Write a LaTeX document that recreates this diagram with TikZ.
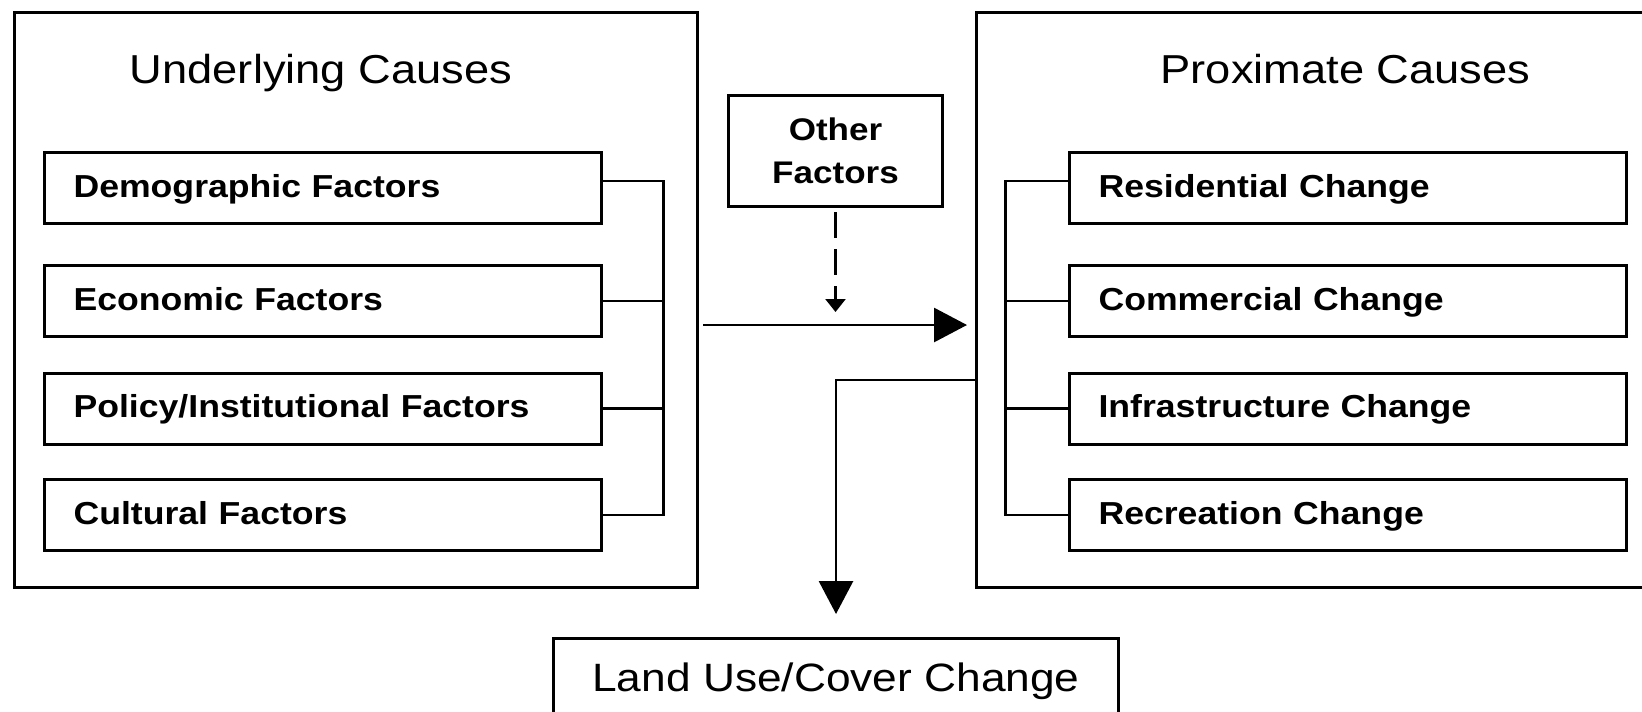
\documentclass[tikz,border=0pt]{standalone}
\usepackage{fontspec}
\setmainfont{Liberation Sans}[FakeStretch=1.12]
\usetikzlibrary{arrows.meta}
\begin{document}
\begin{tikzpicture}[
  x=0.02cm, y=-0.02cm,
  frame/.style={draw, line width=0.06cm, inner sep=0pt, anchor=north west},
  title/.style={anchor=base, font=\fontsize{23}{27}\selectfont},
  factor/.style={draw, line width=0.06cm, minimum width=11.14cm, minimum height=1.42cm,
    text width=9.98cm, inner xsep=0.58cm, align=left,
    text height=0.46cm, text depth=0.1cm,
    font=\bfseries\fontsize{18.1}{20}\selectfont},
  link/.style={draw, line width=0.058cm},
  bigtip/.style={-{Triangle[length=0.66cm,width=0.68cm]}},
]
\useasboundingbox (0,0) rectangle (1642,711);

% the two cause groups
\node[frame, minimum width=13.66cm, minimum height=11.5cm] (under) at (13,11) {};
\node[frame, minimum width=13.9cm, minimum height=11.5cm] (prox) at (975,11) {};
\node[title] (undertitle) at (321,83) {Underlying Causes};
\node[title] (proxtitle) at (1345.6,83) {Proximate Causes};

% underlying factors
\node[factor] (dem) at (323,188) {Demographic Factors};
\node[factor] (eco) at (323,301) {Economic Factors};
\node[factor] (pol) at (323,408.5) {Policy/Institutional Factors};
\node[factor] (cul) at (323,515) {Cultural Factors};

% proximate changes
\node[factor] (res) at (1348,188) {Residential Change};
\node[factor] (com) at (1348,301) {Commercial Change};
\node[factor] (inf) at (1348,408.5) {Infrastructure Change};
\node[factor] (rec) at (1348,515) {Recreation Change};

% other factors and the outcome
\node[draw, line width=0.06cm, minimum width=4.3cm, minimum height=2.24cm, align=center,
  font=\bfseries\fontsize{17.8}{24.5}\selectfont] (other) at (835.5,151) {Other\\Factors};
\node[draw, line width=0.06cm, anchor=north, minimum width=11.32cm, inner ysep=0pt,
  text height=1.06cm, text depth=1.4cm, font=\fontsize{22.5}{26}\selectfont]
  (land) at (836,637) {Land Use/Cover Change};

% bracket joining the underlying factors
\coordinate (lb) at (663.5,0);
\coordinate (d1) at ([yshift=0.14cm]dem.east);
\draw[link] (d1) -- (d1 -| lb) -- (lb |- cul.east) -- (cul.east);
\draw[link] (eco.east) -- (eco.east -| lb);
\draw[link] (pol.east) -- (pol.east -| lb);

% bracket joining the proximate changes
\coordinate (rb) at (1005.7,0);
\coordinate (r1) at ([yshift=0.14cm]res.west);
\draw[link] (r1) -- (r1 -| rb) -- (rb |- rec.west) -- (rec.west);
\draw[link] (com.west) -- (com.west -| rb);
\draw[link] (inf.west) -- (inf.west -| rb);

% flows
\coordinate (mainy) at (0,325);
\draw[link, bigtip, shorten <=0.09cm, shorten >=0.16cm] (under.east |- mainy) -- (prox.west |- mainy);
\coordinate (tipy) at (0,312);
\draw[link, line width=0.048cm, dash pattern=on 0.52cm off 0.22cm,
  -{Triangle[length=0.26cm,width=0.4cm]}, shorten <=0.08cm] (other.south) -- (other.south |- tipy);
\coordinate (downy) at (0,380);
\draw[link, bigtip, shorten >=0.46cm] (prox.west |- downy) -| (land.north);
\end{tikzpicture}
\end{document}
